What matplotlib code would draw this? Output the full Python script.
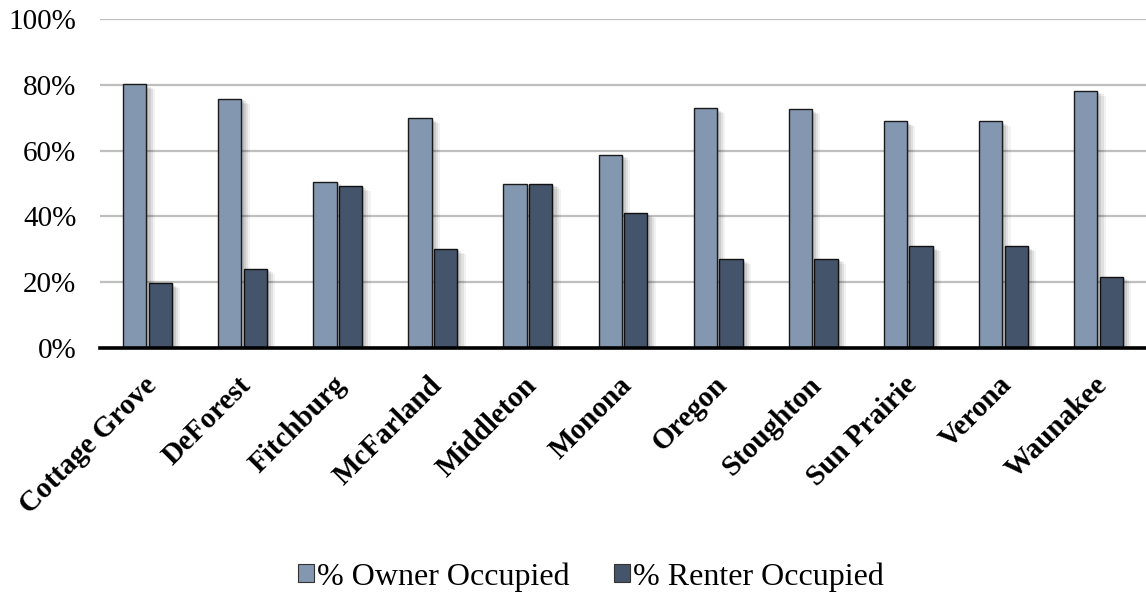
import matplotlib
matplotlib.use("Agg")
import matplotlib.pyplot as plt
import matplotlib.patheffects as pe
import matplotlib.transforms as mtransforms
from matplotlib.patches import Patch
import numpy as np

categories = ["Cottage Grove", "DeForest", "Fitchburg", "McFarland", "Middleton",
              "Monona", "Oregon", "Stoughton", "Sun Prairie", "Verona", "Waunakee"]
owner = [80.2, 75.7, 50.5, 69.8, 49.8, 58.8, 72.9, 72.5, 68.9, 68.9, 78.2]
renter = [19.7, 24.1, 49.3, 30.1, 50.0, 40.9, 26.9, 27.2, 31.0, 31.0, 21.7]
series_names = ["% Owner Occupied", "% Renter Occupied"]
yticks = [0, 20, 40, 60, 80, 100]

c_owner = "#8497B0"
c_renter = "#44546A"

plt.rcParams['font.family'] = ['Liberation Serif', 'DejaVu Serif']

fig = plt.figure(figsize=(11.46, 5.96), dpi=100)
W, H = 1146, 596
ax = fig.add_axes([100 / W, (H - 348) / H, (1146 - 100) / W, (348 - 19) / H])

x = np.arange(len(categories))
bw = 0.245
gap = 0.025
shadow = [pe.SimplePatchShadow(offset=(o, -o * 0.6), shadow_rgbFace='#000000', alpha=a)
          for o, a in [(6, 0.05), (4.5, 0.07), (3, 0.09), (1.5, 0.1)]] + [pe.Normal()]
b1 = ax.bar(x - bw / 2 - gap / 2, owner, bw, color=c_owner, edgecolor='#1a1a1a', linewidth=1.0, zorder=3)
b2 = ax.bar(x + bw / 2 + gap / 2, renter, bw, color=c_renter, edgecolor='#111111', linewidth=1.0, zorder=3)
for p in list(b1) + list(b2):
    p.set_path_effects(shadow)

ax.set_xlim(-0.5, len(categories) - 0.5)
ax.set_ylim(0, 100)
ax.set_yticks(yticks)
ax.set_yticklabels([f"{v}%" for v in yticks], fontsize=21)
ax.yaxis.grid(True, color='#BFBFBF', linewidth=1.6, zorder=0)
ax.set_axisbelow(True)
ax.tick_params(axis='y', length=0, pad=17)
for s in ['top', 'right', 'left']:
    ax.spines[s].set_visible(False)
ax.spines['bottom'].set_linewidth(2.6)
ax.spines['bottom'].set_color('black')
ax.spines['bottom'].set_zorder(5)

ax.set_xticks(x)
ax.set_xticklabels(categories, rotation=45, ha='right', rotation_mode='anchor',
                   fontsize=21, fontweight='bold')
ax.tick_params(axis='x', length=0, pad=14)
shift = mtransforms.ScaledTranslation(-5 / 100, -4 / 100, fig.dpi_scale_trans)
for lbl in ax.get_xticklabels():
    lbl.set_transform(lbl.get_transform() + shift)

handles = [Patch(facecolor=c_owner, edgecolor='#333333', linewidth=0.8),
           Patch(facecolor=c_renter, edgecolor='#333333', linewidth=0.8)]
fig.legend(handles, series_names, loc='center', bbox_to_anchor=(591 / W, 1 - 577 / H),
           ncol=2, frameon=False, fontsize=23, handlelength=0.48, handleheight=0.48,
           handletextpad=0.1, columnspacing=1.4)

fig.savefig("out.png", dpi=100)
